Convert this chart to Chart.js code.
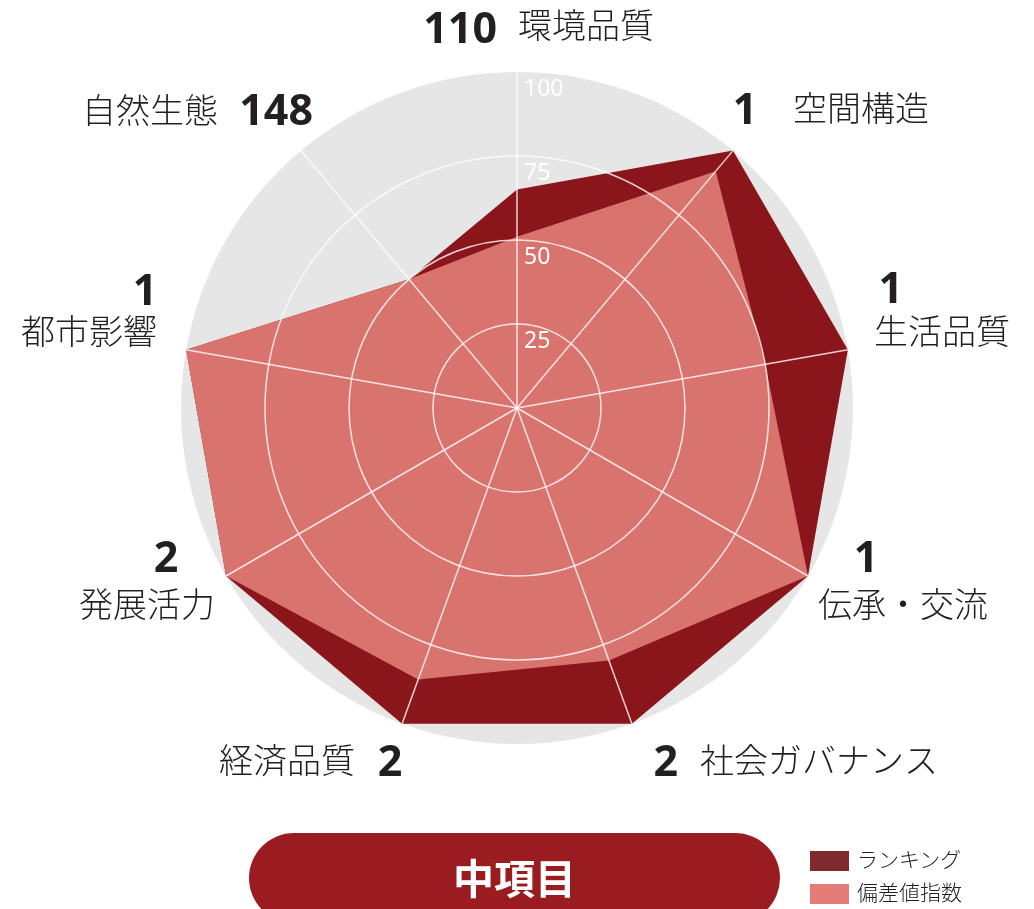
<!DOCTYPE html>
<html>
<head>
<meta charset="utf-8">
<script src="https://cdn.jsdelivr.net/npm/chart.js"></script>
<style>
  body { margin: 0; background: #fff; }
  #wrap { position: relative; width: 1034px; height: 909px; overflow: hidden; }
  #radar { position: absolute; left: 0; top: 0; }
  .pill {
    position: absolute; left: 249px; top: 833px; width: 531px; height: 90px;
    border-radius: 45px; background: #9B1C20; color: #fff;
    font: bold 41px "Noto Sans CJK JP", sans-serif;
    text-align: center; line-height: 86px;
  }
  .leg { position: absolute; left: 810px; font: 300 21px "Noto Sans CJK JP", sans-serif; color: #231F20; }
  .leg span { display: inline-block; width: 39px; height: 20px; vertical-align: middle; margin-right: 8px; }
</style>
</head>
<body>
<div id="wrap">
  <canvas id="radar" width="1034" height="909"></canvas>
  <div class="pill">中項目</div>
  <div class="leg" style="top:843px"><span style="background:#7E2A2E"></span>ランキング</div>
  <div class="leg" style="top:876px"><span style="background:#E47C77"></span>偏差値指数</div>
</div>
<script>
// data
const labels = ['環境品質', '空間構造', '生活品質', '伝承・交流', '社会ガバナンス', '経済品質', '発展活力', '都市影響', '自然生態'];
const ranks = ['110', '1', '1', '1', '2', '2', '2', '1', '148'];
const rankingScore = [65, 100, 100, 100, 100, 100, 100, 100, 50];
const deviationIndex = [51, 92, 75, 100, 80, 86, 100, 100, 50];
const tickValues = [25, 50, 75, 100];

// where each label goes, relative to the outer point of its axis
// [num dx, num baseline dy, num align, name dx, name dy, name align]
const labelPos = [
  [-20, -29, 'right', 1, -47, 'left'],
  [12, -27, 'center', 60, -43, 'left'],
  [43, -47, 'center', 26, -19, 'left'],
  [58, -4, 'center', 10, 28, 'left'],
  [34, 52, 'center', 68, 36, 'left'],
  [-12, 52, 'center', -47, 36, 'right'],
  [-60, -4, 'center', -11, 28, 'right'],
  [-41, -45, 'center', -29, -19, 'right'],
  [12, -26, 'right', -83, -41, 'right']
];

const greyDisc = {
  id: 'greyDisc',
  beforeDatasetsDraw(chart) {
    const s = chart.scales.r;
    const ctx = chart.ctx;
    ctx.save();
    ctx.beginPath();
    ctx.arc(s.xCenter, s.yCenter, s.drawingArea, 0, Math.PI * 2);
    ctx.fillStyle = '#E6E6E7';
    ctx.fill();
    ctx.restore();
  }
};

const textLabels = {
  id: 'textLabels',
  afterDraw(chart) {
    const s = chart.scales.r;
    const ctx = chart.ctx;
    ctx.save();
    // tick numbers on the top axis
    ctx.fillStyle = '#fff';
    ctx.font = '23px "Noto Sans", sans-serif';
    ctx.textAlign = 'left';
    ctx.textBaseline = 'middle';
    tickValues.forEach(function (v) {
      ctx.fillText(String(v), s.xCenter + 7, s.yCenter - s.getDistanceFromCenterForValue(v) + 17);
    });
    // category names with rank
    ctx.fillStyle = '#231F20';
    for (let i = 0; i < labels.length; i++) {
      const p = s.getPointPosition(i, s.drawingArea);
      const lp = labelPos[i];
      ctx.font = 'bold 43px "Noto Sans", sans-serif';
      ctx.textAlign = lp[2];
      ctx.textBaseline = 'alphabetic';
      ctx.fillText(ranks[i], p.x + lp[0], p.y + lp[1]);
      ctx.font = '300 34px "Noto Sans CJK JP", sans-serif';
      ctx.textAlign = lp[5];
      ctx.textBaseline = 'middle';
      ctx.fillText(labels[i], p.x + lp[3], p.y + lp[4]);
    }
    ctx.restore();
  }
};

const config = {
  type: 'radar',
  data: {
    labels: labels,
    datasets: [{
      label: 'ランキング',
      data: rankingScore,
      backgroundColor: '#8A161C',
      borderWidth: 0,
      pointRadius: 0,
      fill: true,
      order: 2
    }, {
      label: '偏差値指数',
      data: deviationIndex,
      backgroundColor: '#D9736E',
      borderWidth: 0,
      pointRadius: 0,
      fill: true,
      order: 1
    }]
  },
  options: {
    responsive: false,
    animation: false,
    layout: { padding: { left: 181, right: 181, top: 72, bottom: 165 } },
    plugins: { legend: { display: false }, tooltip: { enabled: false } },
    scales: {
      r: {
        min: 0,
        max: 100,
        ticks: { display: false, stepSize: 25 },
        pointLabels: { display: false },
        grid: {
          circular: true,
          z: 1,
          lineWidth: 1.5,
          color: function (c) { return c.tick && c.tick.value === 100 ? 'rgba(0,0,0,0)' : 'rgba(255,255,255,0.8)'; }
        },
        angleLines: { color: 'rgba(255,255,255,0.8)', lineWidth: 1.5 }
      }
    }
  },
  plugins: [greyDisc, textLabels]
};

window.onload = function () {
  const ctx = document.getElementById('radar').getContext('2d');
  window.myRadar = new Chart(ctx, config);
};
</script>
</body>
</html>
